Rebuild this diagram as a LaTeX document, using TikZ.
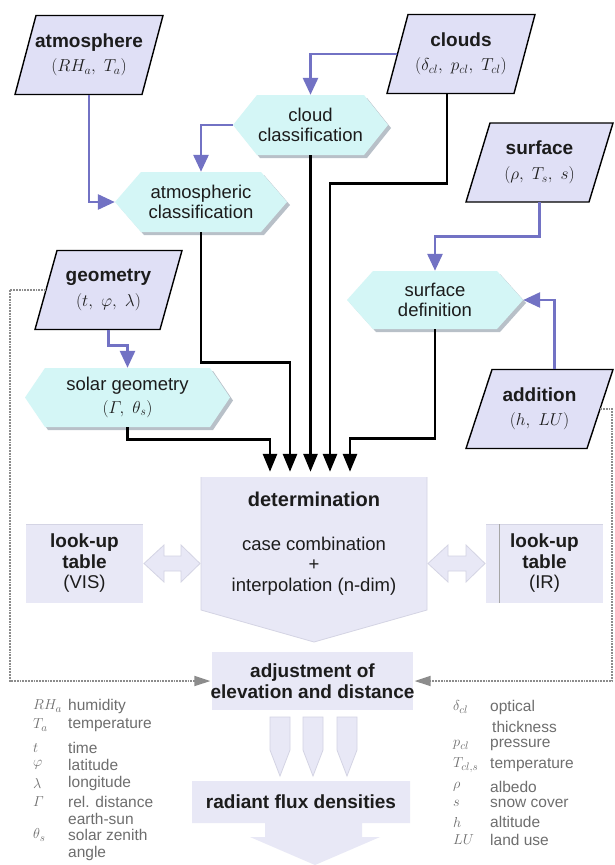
\documentclass[tikz,border=0pt]{standalone}
\usepackage[no-math]{fontspec}
\setmainfont{Liberation Sans}
\usepackage{amsmath}
\usetikzlibrary{arrows.meta}
\definecolor{paraFill}{HTML}{E0E0F6}
\definecolor{hexFill}{HTML}{D4F6F6}
\definecolor{hexShadow}{HTML}{B8C0C8}
\definecolor{arrBlue}{HTML}{7272C4}
\definecolor{boxFill}{HTML}{E8E8F6}
\definecolor{boxLine}{HTML}{D4D4E4}
\definecolor{dotGray}{HTML}{8C8C8C}
\definecolor{legGray}{HTML}{6E6E6E}
\definecolor{txt}{HTML}{1C1C1C}
\newcommand\myTitle{\fontsize{19}{21}\selectfont\bfseries}
\newcommand\myReg{\fontsize{18.5}{20.5}\selectfont}
\newcommand\myLeg{\fontsize{15.5}{17}\selectfont}
\newcommand\paranode[6]{%
  \filldraw[parashape] ({#2-#4/2+#5},{#3-39.5}) -- ({#2+#4/2},{#3-39.5}) -- ({#2+#4/2-#5},{#3+39.5}) -- ({#2-#4/2},{#3+39.5}) -- cycle;
  \node[tnode, minimum width=#4, minimum height=79] (#1) at (#2,#3) {#6};}
\newcommand\hexnode[7]{%
  \fill[hexShadow] ({#2-#4/2+3},{#3+3}) -- ({#2-#4/2+#6+3},{#3-#5/2+3}) -- ({#2+#4/2-#6+3},{#3-#5/2+3}) -- ({#2+#4/2+3},{#3+3}) -- ({#2+#4/2-#6+3},{#3+#5/2+3}) -- ({#2-#4/2+#6+3},{#3+#5/2+3}) -- cycle;
  \fill[hexFill] ({#2-#4/2},{#3}) -- ({#2-#4/2+#6},{#3-#5/2}) -- ({#2+#4/2-#6},{#3-#5/2}) -- ({#2+#4/2},{#3}) -- ({#2+#4/2-#6},{#3+#5/2}) -- ({#2-#4/2+#6},{#3+#5/2}) -- cycle;
  \node[tnode, minimum width=#4, minimum height=#5] (#1) at (#2,#3) {#7};}
\begin{document}
\begin{tikzpicture}[x=1pt,y=-1pt,
  tnode/.style={inner sep=0pt, align=center, text=txt, font=\myReg},
  parashape/.style={fill=paraFill, draw=black, line width=1.4pt, line join=miter},
  blockshape/.style={fill=boxFill, draw=boxLine, line width=0.8pt},
  blu/.style={draw=arrBlue, line width=2.8pt, -{Triangle[length=17pt,width=15pt]}},
  blk/.style={draw=black, line width=2.8pt, -{Triangle[length=18pt,width=14pt]}},
  dotarr/.style={draw=dotGray, line width=1.8pt, densely dotted, -{Triangle[length=16pt,width=10pt]}},
  leg/.style={inner sep=0pt, anchor=west, text=legGray, font=\myLeg}]
\useasboundingbox (0,0) rectangle (614,865);
\fill[white] (0,0) rectangle (614,865);
% input parallelograms
\paranode{atm}{89}{55}{148}{21}{{\myTitle atmosphere}\\[4pt]$(RH_a,\ T_a)$}
\paranode{cl}{461}{54}{148}{21}{{\myTitle clouds}\\[4pt]$(\delta_{cl},\ p_{cl},\ T_{cl})$}
\paranode{geo}{108.5}{290}{147}{22}{{\myTitle geometry}\\[4pt]$(t,\ \varphi,\ \lambda)$}
\paranode{sf}{539.5}{162.5}{147}{24}{{\myTitle surface}\\[4pt]$(\rho,\ T_s,\ s)$}
\paranode{ad}{539.5}{409}{147}{26}{{\myTitle addition}\\[4pt]$(h,\ LU)$}
% hexagons
\hexnode{cc}{310.5}{125}{155}{60}{24}{cloud\\classification}
\hexnode{ac}{201}{202}{172}{60}{26}{atmospheric\\classification}
\hexnode{sd}{435}{300}{176}{58}{26}{surface\\definition}
\hexnode{sg}{127.5}{397.5}{205}{59}{20}{solar geometry\\[2pt]$(\varGamma,\ \theta_s)$}
% determination
\fill[boxFill] (201,477) -- (427,477) -- (427,610) -- (314,642) -- (201,610) -- cycle;
\draw[boxLine, line width=0.8pt] (427,477) -- (427,610) -- (314,642) -- (201,610) -- (201,477);
\node[tnode, minimum width=226, minimum height=133] (det) at (314,543.5)
  {{\fontsize{20}{22}\selectfont\bfseries determination}\\[23pt]case combination\\+\\interpolation (n-dim)};
% look-up tables
\fill[boxFill] (26,524) rectangle (143,603);
\draw[boxLine, line width=0.8pt] (26,524) -- (143,524);
\node[tnode, minimum width=117, minimum height=79] (lv) at (84.5,563.5)
  {{\myTitle look-up}\\{\myTitle table}\\(VIS)};
\fill[boxFill] (486,524) rectangle (603,603);
\draw[boxLine, line width=0.8pt] (486,524) -- (603,524);
\draw[gray!70, line width=0.8pt] (499,524) -- (499,603);
\node[tnode, minimum width=117, minimum height=79] (li) at (544.5,563.5)
  {{\myTitle look-up}\\{\myTitle table}\\(IR)};
% double block arrows
\filldraw[blockshape] (144,563.5) -- (164,545) -- (164,556) -- (181,556) -- (181,545) -- (200,563.5) -- (181,582) -- (181,571) -- (164,571) -- (164,582) -- cycle;
\filldraw[blockshape] (428,563.5) -- (448,545) -- (448,556) -- (466,556) -- (466,545) -- (485,563.5) -- (466,582) -- (466,571) -- (448,571) -- (448,582) -- cycle;
% adjustment
\fill[boxFill] (212,652) rectangle (413,710);
\node[tnode, font=\myTitle, minimum width=201, minimum height=58] (adj) at (312.5,681)
  {adjustment of\\elevation and distance};
% pencil arrows
\foreach \cx in {280,313,347}
  \filldraw[blockshape] ({\cx-10},717) -- ({\cx+10},717) -- ({\cx+10},750) -- (\cx,776) -- ({\cx-10},750) -- cycle;
% radiant flux densities
\fill[boxFill] (192,781) -- (410,781) -- (410,823) -- (362,823) -- (362,837) -- (380,837) -- (315,865) -- (250,837) -- (265,837) -- (265,823) -- (192,823) -- cycle;
\node[tnode, font=\myTitle, minimum width=218, minimum height=42] (rad) at (301,802) {radiant flux densities};
% inputs into determination
\coordinate (in1) at ([xshift=-44pt,yshift=5pt]det.north);
\coordinate (in2) at ([xshift=-24pt,yshift=5pt]det.north);
\coordinate (in3) at (cc.south |- in1);
\coordinate (in4) at ([xshift=16pt,yshift=5pt]det.north);
\coordinate (in5) at ([xshift=36pt,yshift=5pt]det.north);
% blue connectors
\draw[blu] (atm.south) |- (ac.west);
\draw[blu] ([xshift=10.5pt]cl.west) -| (cc.north);
\draw[blu] (cc.west) -| (ac.north);
\draw[blu] (geo.south) -- ++(0,16) -| (sg.north);
\draw[blu] (sf.south) -- ++(0,34) -| (sd.north);
\draw[blu] ([xshift=15pt]ad.north) |- (sd.east);
% black connectors
\draw[blk] (sg.south) -- ++(0,12) -| (in1);
\draw[blk] (ac.south) -- ++(0,130) -| (in2);
\draw[blk] (cc.south) -- (in3);
\draw[blk] ([xshift=-14pt]cl.south) -- ++(0,90) -| (in4);
\draw[blk] (sd.south) -- ++(0,109) -| (in5);
% dotted feedback lines
\draw[dotarr] ([xshift=11pt]geo.west) -- ++(-36,0) |- (adj.west);
\draw[dotarr] ([xshift=-13pt]ad.east) -- ++(12,0) |- (adj.east);
% legend left
\node[leg] (s1) at (33,706) {$RH_a$};      \node[leg] (t1) at (68,706) {humidity};
\node[leg] (s2) at (33,725) {$T_a$};       \node[leg] (t2) at (68,725) {temperature};
\node[leg] (s3) at (33,748) {$t$};         \node[leg] (t3) at (68,748) {time};
\node[leg] (s4) at (33,765) {$\varphi$};   \node[leg] (t4) at (68,765) {latitude};
\node[leg] (s5) at (33,783) {$\lambda$};   \node[leg] (t5) at (68,783) {longitude};
\node[leg] (s6) at (33,802) {$\varGamma$}; \node[leg] (t6) at (68,802) {rel. distance};
                                           \node[leg] (t7) at (68,819) {earth-sun};
\node[leg] (s8) at (33,835) {$\theta_s$};  \node[leg] (t8) at (68,835) {solar zenith};
                                           \node[leg] (t9) at (68,853) {angle};
% legend right
\node[leg] (r1) at (453,707) {$\delta_{cl}$};  \node[leg] (u1) at (490,707) {optical};
                                               \node[leg] (u2) at (492,727) {thickness};
\node[leg] (r3) at (453,745) {$p_{cl}$};       \node[leg] (u3) at (490,745) {pressure};
\node[leg] (r4) at (453,765) {$T_{cl,s}$};     \node[leg] (u4) at (490,765) {temperature};
\node[leg] (r5) at (453,787) {$\rho$};         \node[leg] (u5) at (490,787) {albedo};
\node[leg] (r6) at (453,803) {$s$};            \node[leg] (u6) at (490,803) {snow cover};
\node[leg] (r7) at (453,822) {$h$};            \node[leg] (u7) at (490,822) {altitude};
\node[leg] (r8) at (453,840) {$LU$};           \node[leg] (u8) at (490,840) {land use};
\end{tikzpicture}
\end{document}
